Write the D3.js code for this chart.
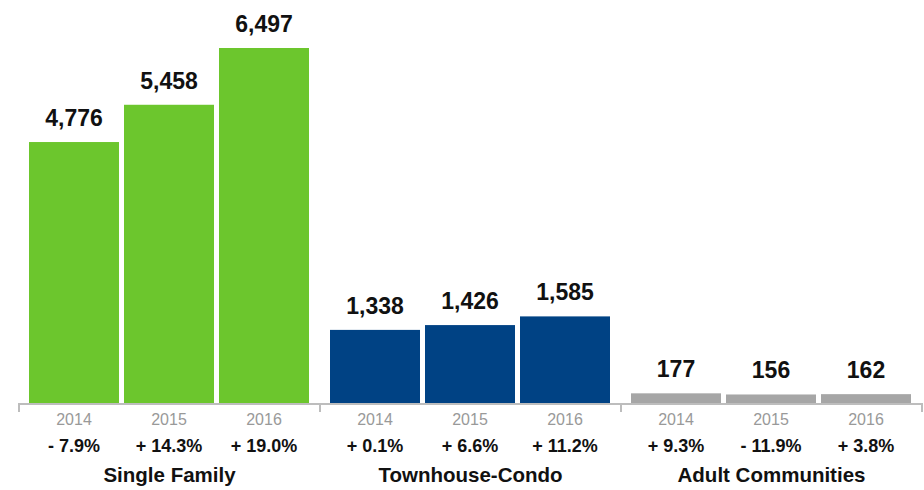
<!DOCTYPE html>
<html><head><meta charset="utf-8">
<script src="https://cdn.jsdelivr.net/npm/d3@7"></script>
<style>html,body{margin:0;padding:0;background:#fff;}svg{display:block;font-family:"Liberation Sans",Arial,Helvetica,sans-serif;}</style>
</head><body>
<svg id="c" width="924" height="490"></svg>
<script>
const groups = ["Single Family", "Townhouse-Condo", "Adult Communities"];
const years = ["2014", "2015", "2016"];
const singleFamily = [4776, 5458, 6497];
const townhouseCondo = [1338, 1426, 1585];
const adultCommunities = [177, 156, 162];
const changeSingleFamily = ["- 7.9%", "+ 14.3%", "+ 19.0%"];
const changeTownhouse = ["+ 0.1%", "+ 6.6%", "+ 11.2%"];
const changeAdult = ["+ 9.3%", "- 11.9%", "+ 3.8%"];
const colors = ["#6cc62d", "#004284", "#a6a6a6"];

const values = [singleFamily, townhouseCondo, adultCommunities];
const changes = [changeSingleFamily, changeTownhouse, changeAdult];

const svg = d3.select("#c");
const baseY = 403;
const x0 = d3.scaleBand().domain(groups).range([19, 922]).padding(0);
const x1 = d3.scaleBand().domain(years).range([10, 290]).paddingInner(5/95).paddingOuter(0);
const y = d3.scaleLinear().domain([0, 6497]).range([baseY, 48]);
const fmt = d3.format(",");

const g = svg.selectAll("g.grp").data(groups).join("g")
  .attr("class", "grp")
  .attr("transform", d => `translate(${x0(d)},0)`);

g.each(function(gname, gi) {
  const sel = d3.select(this);
  const rows = years.map((yr, i) => ({yr, v: values[gi][i], c: changes[gi][i]}));
  sel.selectAll("rect").data(rows).join("rect")
    .attr("x", d => x1(d.yr)).attr("width", x1.bandwidth())
    .attr("y", d => y(d.v)).attr("height", d => baseY - y(d.v))
    .attr("fill", colors[gi]);
  sel.selectAll("text.val").data(rows).join("text").attr("class", "val")
    .attr("x", d => x1(d.yr) + x1.bandwidth()/2).attr("y", d => y(d.v) - 16)
    .attr("text-anchor", "middle").attr("font-size", 23).attr("font-weight", "bold").attr("fill", "#111")
    .text(d => fmt(d.v));
  sel.selectAll("text.yr").data(rows).join("text").attr("class", "yr")
    .attr("x", d => x1(d.yr) + x1.bandwidth()/2).attr("y", 425)
    .attr("text-anchor", "middle").attr("font-size", 16).attr("fill", "#999")
    .text(d => d.yr);
  sel.selectAll("text.chg").data(rows).join("text").attr("class", "chg")
    .attr("x", d => x1(d.yr) + x1.bandwidth()/2).attr("y", 452)
    .attr("text-anchor", "middle").attr("font-size", 18).attr("font-weight", "bold").attr("fill", "#111")
    .text(d => d.c);
  sel.append("text")
    .attr("x", x0.bandwidth()/2).attr("y", 482)
    .attr("text-anchor", "middle").attr("font-size", 20.5).attr("font-weight", "bold").attr("fill", "#111")
    .text(gname);
});

// axis
const axisG = svg.append("g");
axisG.append("line").attr("x1", x0.range()[0]).attr("x2", x0.range()[1])
  .attr("y1", baseY + 1).attr("y2", baseY + 1).attr("stroke", "#bdbdbd").attr("stroke-width", 2);
const tickXs = groups.map(d => x0(d)).concat([x0(groups[groups.length-1]) + x0.bandwidth()]);
axisG.selectAll("line.tick").data(tickXs).join("line").attr("class", "tick")
  .attr("x1", d => d).attr("x2", d => d).attr("y1", baseY).attr("y2", 412)
  .attr("stroke", "#bdbdbd").attr("stroke-width", 2);
</script>
</body></html>
